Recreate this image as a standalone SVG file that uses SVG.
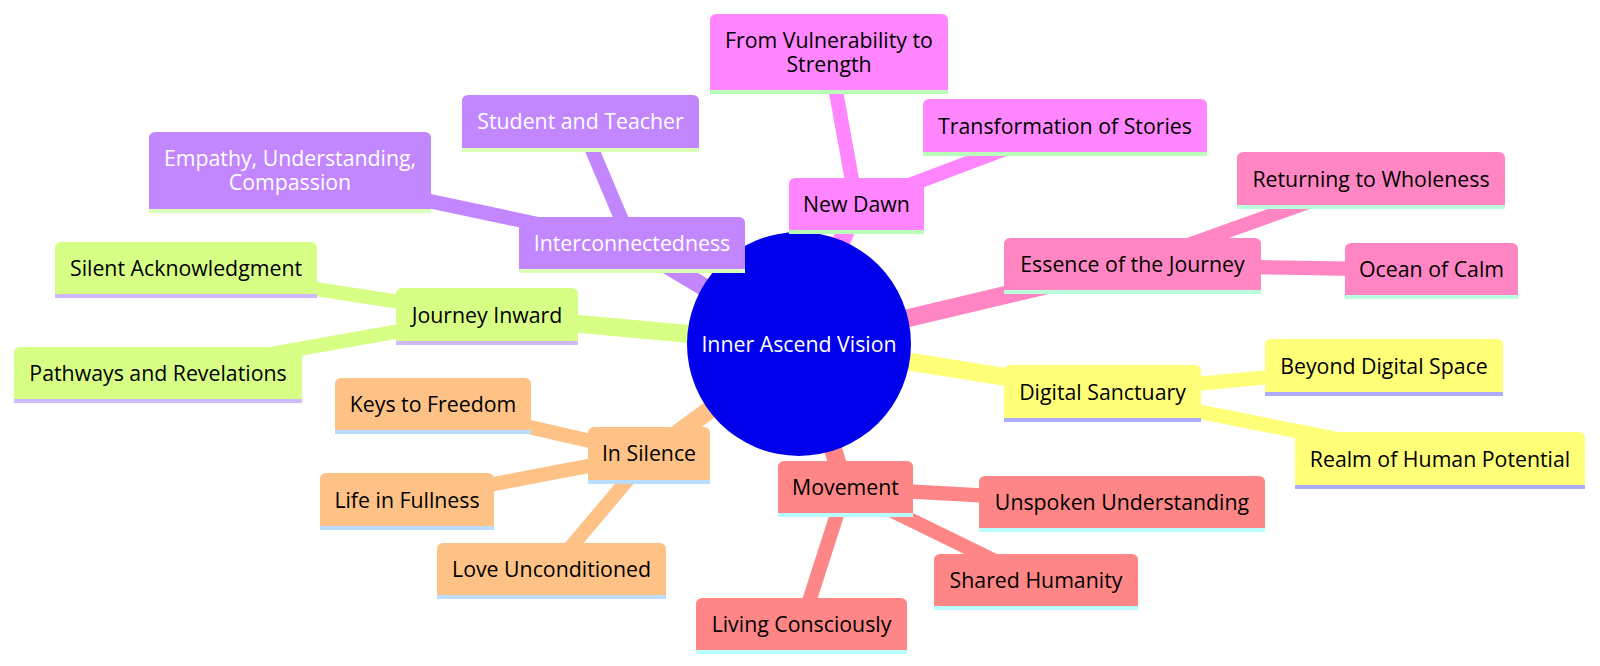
<svg xmlns="http://www.w3.org/2000/svg" width="1600" height="666" viewBox="0 0 1600 666">
<style>
text{font-family:"Open Sans","Noto Sans","Liberation Sans",sans-serif;font-size:21.3px;text-anchor:middle;fill:#000}
.edge{fill:none;stroke-linecap:butt}
.d0{stroke-width:18}
.d1{stroke-width:14.3}
.stripe{stroke-width:3.9}
.s0 .box{fill:#ffff78}.s0 .stripe{stroke:#ababff}.e0{stroke:#ffff78}
.s1 .box{fill:#d7ff86}.s1 .stripe{stroke:#d0b9ff}.e1{stroke:#d7ff86}
.s2 .box{fill:#c286ff}.s2 .stripe{stroke:#dcffb9}.e2{stroke:#c286ff}.s2 text{fill:#fff}
.s3 .box{fill:#ff86ff}.s3 .stripe{stroke:#b9ffb9}.e3{stroke:#ff86ff}
.s4 .box{fill:#ff86c2}.s4 .stripe{stroke:#b9ffdc}.e4{stroke:#ff86c2}
.s5 .box{fill:#ff8686}.s5 .stripe{stroke:#b9ffff}.e5{stroke:#ff8686}
.s6 .box{fill:#ffc286}.s6 .stripe{stroke:#b9dcff}.e6{stroke:#ffc286}
</style>
<g id="connectors">
<line class="edge d0 e0" x1="799" y1="344" x2="1102.5" y2="392.5"/>
<line class="edge d0 e1" x1="799" y1="344" x2="487" y2="315.5"/>
<line class="edge d0 e2" x1="799" y1="344" x2="632" y2="244"/>
<line class="edge d0 e3" x1="799" y1="344" x2="856.5" y2="205"/>
<line class="edge d0 e4" x1="799" y1="344" x2="1132.5" y2="265"/>
<line class="edge d0 e5" x1="799" y1="344" x2="845.5" y2="488"/>
<line class="edge d0 e6" x1="799" y1="344" x2="649" y2="454.5"/>
<line class="edge d1 e0" x1="1102.5" y1="392.5" x2="1384" y2="366.5"/>
<line class="edge d1 e0" x1="1102.5" y1="392.5" x2="1440" y2="459.5"/>
<line class="edge d1 e1" x1="487" y1="315.5" x2="186" y2="269"/>
<line class="edge d1 e1" x1="487" y1="315.5" x2="158" y2="374"/>
<line class="edge d1 e2" x1="632" y1="244" x2="580.5" y2="122.5"/>
<line class="edge d1 e2" x1="632" y1="244" x2="290" y2="171.5"/>
<line class="edge d1 e3" x1="856.5" y1="205" x2="829" y2="53"/>
<line class="edge d1 e3" x1="856.5" y1="205" x2="1065" y2="126.5"/>
<line class="edge d1 e4" x1="1132.5" y1="265" x2="1371" y2="179.5"/>
<line class="edge d1 e4" x1="1132.5" y1="265" x2="1431.5" y2="270"/>
<line class="edge d1 e5" x1="845.5" y1="488" x2="1122" y2="503"/>
<line class="edge d1 e5" x1="845.5" y1="488" x2="1036" y2="581"/>
<line class="edge d1 e5" x1="845.5" y1="488" x2="801.5" y2="625"/>
<line class="edge d1 e6" x1="649" y1="454.5" x2="433" y2="405"/>
<line class="edge d1 e6" x1="649" y1="454.5" x2="407" y2="500.5"/>
<line class="edge d1 e6" x1="649" y1="454.5" x2="551.5" y2="570"/>
</g>

<g id="root">
<circle cx="799" cy="344" r="112" fill="#0000ec"/>
<text x="799" y="351.5" style="fill:#fff">Inner Ascend Vision</text>
</g>

<g id="digital-sanctuary" class="s0">
<path class="box" d="M1004 420 V371.5 Q1004 365 1010.5 365 H1194.5 Q1201 365 1201 371.5 V420 Z"/>
<line class="stripe" x1="1004" y1="420" x2="1201" y2="420"/>
<text x="1102.5" y="399.5">Digital Sanctuary</text>
</g>
<g id="beyond-digital-space" class="s0">
<path class="box" d="M1265 394 V345.5 Q1265 339 1271.5 339 H1496.5 Q1503 339 1503 345.5 V394 Z"/>
<line class="stripe" x1="1265" y1="394" x2="1503" y2="394"/>
<text x="1384" y="373.5">Beyond Digital Space</text>
</g>
<g id="realm-of-human-potential" class="s0">
<path class="box" d="M1295 487 V438.5 Q1295 432 1301.5 432 H1578.5 Q1585 432 1585 438.5 V487 Z"/>
<line class="stripe" x1="1295" y1="487" x2="1585" y2="487"/>
<text x="1440" y="466.5">Realm of Human Potential</text>
</g>

<g id="journey-inward" class="s1">
<path class="box" d="M396 343 V294.5 Q396 288 402.5 288 H571.5 Q578 288 578 294.5 V343 Z"/>
<line class="stripe" x1="396" y1="343" x2="578" y2="343"/>
<text x="487" y="322.5">Journey Inward</text>
</g>
<g id="silent-acknowledgment" class="s1">
<path class="box" d="M55 296 V248.5 Q55 242 61.5 242 H310.5 Q317 242 317 248.5 V296 Z"/>
<line class="stripe" x1="55" y1="296" x2="317" y2="296"/>
<text x="186" y="276">Silent Acknowledgment</text>
</g>
<g id="pathways-and-revelations" class="s1">
<path class="box" d="M14 401 V353.5 Q14 347 20.5 347 H295.5 Q302 347 302 353.5 V401 Z"/>
<line class="stripe" x1="14" y1="401" x2="302" y2="401"/>
<text x="158" y="381">Pathways and Revelations</text>
</g>

<g id="interconnectedness" class="s2">
<path class="box" d="M519 271 V223.5 Q519 217 525.5 217 H738.5 Q745 217 745 223.5 V271 Z"/>
<line class="stripe" x1="519" y1="271" x2="745" y2="271"/>
<text x="632" y="251">Interconnectedness</text>
</g>
<g id="student-and-teacher" class="s2">
<path class="box" d="M462 150 V101.5 Q462 95 468.5 95 H692.5 Q699 95 699 101.5 V150 Z"/>
<line class="stripe" x1="462" y1="150" x2="699" y2="150"/>
<text x="580.5" y="129">Student and Teacher</text>
</g>
<g id="empathy-understanding-compassion" class="s2">
<path class="box" d="M149 211 V138.5 Q149 132 155.5 132 H424.5 Q431 132 431 138.5 V211 Z"/>
<line class="stripe" x1="149" y1="211" x2="431" y2="211"/>
<text x="290" y="166">Empathy, Understanding,<tspan x="290" dy="23.5">Compassion</tspan></text>
</g>

<g id="new-dawn" class="s3">
<path class="box" d="M789 232 V184.5 Q789 178 795.5 178 H917.5 Q924 178 924 184.5 V232 Z"/>
<line class="stripe" x1="789" y1="232" x2="924" y2="232"/>
<text x="856.5" y="212">New Dawn</text>
</g>
<g id="from-vulnerability-to-strength" class="s3">
<path class="box" d="M710 92 V20.5 Q710 14 716.5 14 H941.5 Q948 14 948 20.5 V92 Z"/>
<line class="stripe" x1="710" y1="92" x2="948" y2="92"/>
<text x="829" y="48">From Vulnerability to<tspan x="829" dy="23.5">Strength</tspan></text>
</g>
<g id="transformation-of-stories" class="s3">
<path class="box" d="M923 154 V105.5 Q923 99 929.5 99 H1200.5 Q1207 99 1207 105.5 V154 Z"/>
<line class="stripe" x1="923" y1="154" x2="1207" y2="154"/>
<text x="1065" y="133.5">Transformation of Stories</text>
</g>

<g id="essence-of-the-journey" class="s4">
<path class="box" d="M1004 292 V244.5 Q1004 238 1010.5 238 H1254.5 Q1261 238 1261 244.5 V292 Z"/>
<line class="stripe" x1="1004" y1="292" x2="1261" y2="292"/>
<text x="1132.5" y="272">Essence of the Journey</text>
</g>
<g id="returning-to-wholeness" class="s4">
<path class="box" d="M1237 207 V158.5 Q1237 152 1243.5 152 H1498.5 Q1505 152 1505 158.5 V207 Z"/>
<line class="stripe" x1="1237" y1="207" x2="1505" y2="207"/>
<text x="1371" y="186.5">Returning to Wholeness</text>
</g>
<g id="ocean-of-calm" class="s4">
<path class="box" d="M1345 297 V249.5 Q1345 243 1351.5 243 H1511.5 Q1518 243 1518 249.5 V297 Z"/>
<line class="stripe" x1="1345" y1="297" x2="1518" y2="297"/>
<text x="1431.5" y="277">Ocean of Calm</text>
</g>

<g id="movement" class="s5">
<path class="box" d="M778 515 V467.5 Q778 461 784.5 461 H906.5 Q913 461 913 467.5 V515 Z"/>
<line class="stripe" x1="778" y1="515" x2="913" y2="515"/>
<text x="845.5" y="495">Movement</text>
</g>
<g id="unspoken-understanding" class="s5">
<path class="box" d="M979 530 V482.5 Q979 476 985.5 476 H1258.5 Q1265 476 1265 482.5 V530 Z"/>
<line class="stripe" x1="979" y1="530" x2="1265" y2="530"/>
<text x="1122" y="510">Unspoken Understanding</text>
</g>
<g id="shared-humanity" class="s5">
<path class="box" d="M934 608 V560.5 Q934 554 940.5 554 H1131.5 Q1138 554 1138 560.5 V608 Z"/>
<line class="stripe" x1="934" y1="608" x2="1138" y2="608"/>
<text x="1036" y="588">Shared Humanity</text>
</g>
<g id="living-consciously" class="s5">
<path class="box" d="M696 652 V604.5 Q696 598 702.5 598 H900.5 Q907 598 907 604.5 V652 Z"/>
<line class="stripe" x1="696" y1="652" x2="907" y2="652"/>
<text x="801.5" y="632">Living Consciously</text>
</g>

<g id="in-silence" class="s6">
<path class="box" d="M588 482 V433.5 Q588 427 594.5 427 H703.5 Q710 427 710 433.5 V482 Z"/>
<line class="stripe" x1="588" y1="482" x2="710" y2="482"/>
<text x="649" y="461">In Silence</text>
</g>
<g id="keys-to-freedom" class="s6">
<path class="box" d="M335 432 V384.5 Q335 378 341.5 378 H524.5 Q531 378 531 384.5 V432 Z"/>
<line class="stripe" x1="335" y1="432" x2="531" y2="432"/>
<text x="433" y="412">Keys to Freedom</text>
</g>
<g id="life-in-fullness" class="s6">
<path class="box" d="M320 528 V479.5 Q320 473 326.5 473 H487.5 Q494 473 494 479.5 V528 Z"/>
<line class="stripe" x1="320" y1="528" x2="494" y2="528"/>
<text x="407" y="507.5">Life in Fullness</text>
</g>
<g id="love-unconditioned" class="s6">
<path class="box" d="M437 597 V549.5 Q437 543 443.5 543 H659.5 Q666 543 666 549.5 V597 Z"/>
<line class="stripe" x1="437" y1="597" x2="666" y2="597"/>
<text x="551.5" y="577">Love Unconditioned</text>
</g>
</svg>
